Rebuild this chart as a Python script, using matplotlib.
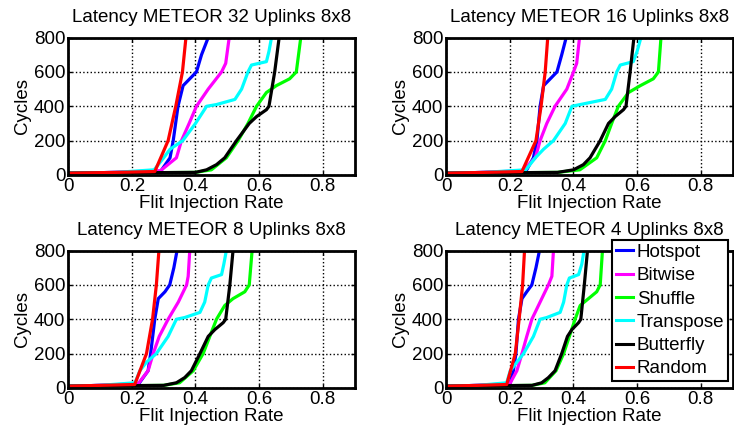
import matplotlib
matplotlib.use("Agg")
import matplotlib.pyplot as plt

plt.rcParams["font.family"] = ["Liberation Sans", "DejaVu Sans"]
plt.rcParams["font.size"] = 13.5

# panel titles (uplinks)
panels = ["32", "16", "8", "4"]

# latency levels sampled for each traffic pattern
hotspot_y = [10, 15, 20, 100, 200, 400, 520, 560, 600, 700, 800]
bitwise_y = [10, 15, 25, 100, 200, 300, 400, 500, 600, 650, 800]
shuffle_y = [10, 15, 30, 100, 200, 300, 400, 480, 520, 560, 600, 800]
transpose_y = [10, 15, 30, 100, 150, 200, 300, 400, 410, 440, 500, 600, 640, 660, 720, 800]
butterfly_y = [10, 15, 30, 60, 100, 200, 300, 340, 380, 400, 600, 800]
random_y = [10, 15, 20, 200, 400, 600, 800]

# injection rates per panel (32, 16, 8, 4 uplinks)
hotspot_x = [
    [0, 0.15, 0.29, 0.32, 0.33, 0.345, 0.361, 0.382, 0.403, 0.419, 0.44],
    [0, 0.12, 0.25, 0.274, 0.285, 0.295, 0.306, 0.327, 0.348, 0.363, 0.377],
    [0, 0.10, 0.22, 0.251, 0.259, 0.272, 0.283, 0.304, 0.319, 0.332, 0.342],
    [0, 0.10, 0.20, 0.211, 0.219, 0.227, 0.238, 0.253, 0.269, 0.282, 0.293],
]
bitwise_x = [
    [0, 0.15, 0.29, 0.34, 0.356, 0.38, 0.403, 0.44, 0.482, 0.495, 0.506],
    [0, 0.12, 0.24, 0.28, 0.295, 0.316, 0.342, 0.379, 0.40, 0.41, 0.419],
    [0, 0.10, 0.22, 0.251, 0.267, 0.286, 0.314, 0.346, 0.372, 0.377, 0.382],
    [0, 0.10, 0.20, 0.222, 0.238, 0.253, 0.269, 0.295, 0.321, 0.332, 0.337],
]
shuffle_x = [
    [0, 0.40, 0.45, 0.497, 0.534, 0.565, 0.592, 0.623, 0.654, 0.696, 0.717, 0.731],
    [0, 0.35, 0.42, 0.473, 0.50, 0.52, 0.541, 0.573, 0.61, 0.651, 0.667, 0.675],
    [0, 0.30, 0.35, 0.393, 0.424, 0.445, 0.466, 0.492, 0.518, 0.555, 0.569, 0.578],
    [0, 0.27, 0.31, 0.345, 0.369, 0.387, 0.405, 0.421, 0.447, 0.473, 0.484, 0.491],
]
transpose_x = [
    [0, 0.15, 0.27, 0.30, 0.32, 0.36, 0.40, 0.435, 0.466, 0.524, 0.545, 0.565, 0.576, 0.623, 0.631, 0.639],
    [0, 0.12, 0.25, 0.28, 0.306, 0.337, 0.374, 0.395, 0.421, 0.50, 0.52, 0.536, 0.547, 0.588, 0.60, 0.612],
    [0, 0.10, 0.21, 0.225, 0.246, 0.277, 0.314, 0.34, 0.366, 0.414, 0.429, 0.44, 0.45, 0.482, 0.489, 0.497],
    [0, 0.10, 0.19, 0.201, 0.222, 0.243, 0.274, 0.295, 0.316, 0.358, 0.369, 0.379, 0.387, 0.416, 0.426, 0.433],
]
butterfly_x = [
    [0, 0.40, 0.435, 0.466, 0.492, 0.529, 0.569, 0.592, 0.623, 0.631, 0.649, 0.663],
    [0, 0.35, 0.40, 0.431, 0.452, 0.484, 0.51, 0.531, 0.557, 0.565, 0.578, 0.59],
    [0, 0.30, 0.34, 0.366, 0.387, 0.414, 0.44, 0.461, 0.487, 0.495, 0.508, 0.518],
    [0, 0.27, 0.30, 0.321, 0.342, 0.363, 0.381, 0.395, 0.416, 0.423, 0.434, 0.444],
]
random_x = [
    [0, 0.15, 0.272, 0.314, 0.338, 0.359, 0.37],
    [0, 0.12, 0.238, 0.282, 0.298, 0.311, 0.319],
    [0, 0.10, 0.209, 0.246, 0.265, 0.277, 0.285],
    [0, 0.10, 0.19, 0.217, 0.229, 0.24, 0.246],
]

series = [
    ("Hotspot", hotspot_x, hotspot_y, "#0000ff"),
    ("Bitwise", bitwise_x, bitwise_y, "#ff00ff"),
    ("Shuffle", shuffle_x, shuffle_y, "#00ff00"),
    ("Transpose", transpose_x, transpose_y, "#00ffff"),
    ("Butterfly", butterfly_x, butterfly_y, "#000000"),
    ("Random", random_x, random_y, "#ff0000"),
]

fig = plt.figure(figsize=(7.34, 4.32), dpi=100)
positions = [
    [0.093, 0.595, 0.390, 0.318],
    [0.608, 0.595, 0.390, 0.318],
    [0.093, 0.102, 0.390, 0.318],
    [0.608, 0.102, 0.390, 0.318],
]

for p, (name, pos) in enumerate(zip(panels, positions)):
    ax = fig.add_axes(pos)
    for label, xs, ys, col in series:
        ax.plot(xs[p], ys, color=col, lw=2.3, label=label, solid_joinstyle="round")
    ax.set_xlim(0, 0.9)
    ax.set_ylim(0, 800)
    ax.set_xticks([0, 0.2, 0.4, 0.6, 0.8])
    ax.set_xticklabels(["0", "0.2", "0.4", "0.6", "0.8"])
    ax.set_yticks([0, 200, 400, 600, 800])
    ax.grid(True, color="black", linestyle=":", lw=1.0)
    for s in ax.spines.values():
        s.set_linewidth(2.0)
    ax.tick_params(direction="in", top=True, right=True, length=3, width=1.0, pad=2)
    ax.set_title(f"Latency METEOR {name} Uplinks 8x8", fontsize=13.5, pad=11.5)
    ax.set_xlabel("Flit Injection Rate", labelpad=0)
    ax.set_ylabel("Cycles", labelpad=2)
    if p == 3:
        leg = ax.legend(loc="upper right", bbox_to_anchor=(728 / 734, 1 - 240 / 432),
                        bbox_transform=fig.transFigure, frameon=True, fancybox=False,
                        handlelength=0.9, handletextpad=0.2, labelspacing=0.33,
                        borderpad=0.2, borderaxespad=0)
        leg.get_frame().set_edgecolor("black")
        leg.get_frame().set_linewidth(1.5)
        leg.get_frame().set_alpha(1)
        for h in leg.get_lines():
            h.set_linewidth(2.2)

fig.savefig("out.png", dpi=100)
